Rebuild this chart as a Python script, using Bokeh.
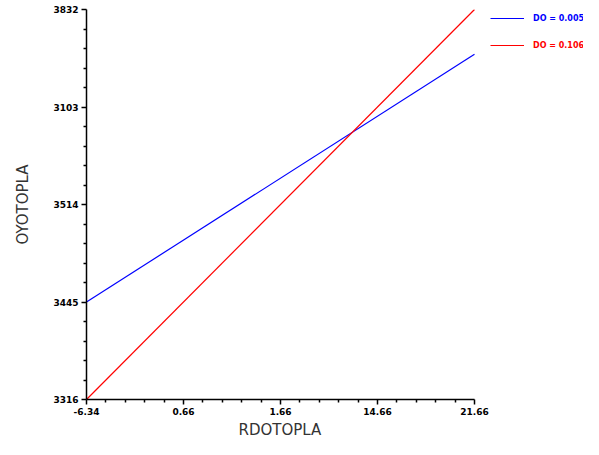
from bokeh.plotting import figure
from bokeh.models import Range1d, Legend, LegendItem, FixedTicker, Title
from bokeh.embed import file_html
from bokeh.resources import INLINE

x_ticks = [0, 1, 2, 3, 4]
x_tick_labels = ["-6.34", "0.66", "1.66", "14.66", "21.66"]
y_ticks = [0, 1, 2, 3, 4]
y_tick_labels = ["3316", "3445", "3514", "3103", "3832"]

x_vals = [0, 4]
blue_vals = [1.0, 3.54]
red_vals = [0.0, 4.0]
series_names = ["DO = 0.005", "DO = 0.106"]
series_colors = ["blue", "red"]
x_title = "RDOTOPLA"
y_title = "OYOTOPLA"

W, H = 583, 439
left, top, bottom = 86, 10, 401
frame_w = W - left
x_end = 4 * frame_w / (474 - left)

p = figure(width=W, height=H, output_backend="svg", toolbar_location=None,
           x_range=Range1d(0, x_end), y_range=Range1d(0, 4),
           min_border_left=left, min_border_right=0, min_border_top=top - 1,
           min_border_bottom=H - bottom)
p.outline_line_color = None
p.xgrid.visible = False
p.ygrid.visible = False
p.background_fill_color = "white"

r1 = p.line(x_vals, blue_vals, line_color=series_colors[0], line_width=1.2)
r2 = p.line(x_vals, red_vals, line_color=series_colors[1], line_width=1.2)

for ax, ticks, labels in ((p.xaxis[0], x_ticks, x_tick_labels), (p.yaxis[0], y_ticks, y_tick_labels)):
    minors = [t + k * 0.2 for t in ticks[:-1] for k in range(1, 5)]
    ax.ticker = FixedTicker(ticks=ticks, minor_ticks=minors)
    ax.major_label_overrides = {t: l for t, l in zip(ticks, labels)}
    ax.bounds = (0, 4)
    ax.axis_line_color = "black"
    ax.axis_line_width = 1.5
    ax.major_tick_line_color = "black"
    ax.major_tick_line_width = 1.5
    ax.minor_tick_line_color = "black"
    ax.minor_tick_line_width = 1.5
    ax.major_tick_out = 5
    ax.major_tick_in = 0
    ax.minor_tick_out = 3
    ax.minor_tick_in = 0
    ax.major_label_text_font = "DejaVu Sans"
    ax.major_label_text_font_size = "9px"
    ax.major_label_text_font_style = "bold"
    ax.major_label_text_color = "black"
    ax.major_label_standoff = 3
    ax.axis_label_text_font = "DejaVu Sans"
    ax.axis_label_text_font_size = "15px"
    ax.axis_label_text_font_style = "normal"
    ax.axis_label_text_color = "#333333"

p.yaxis.axis_label = y_title
p.yaxis.axis_label_standoff = 18

xt = Title(text=x_title, align="left", offset=152, text_font="DejaVu Sans",
           text_font_size="15px", text_font_style="normal", text_color="#333333",
           standoff=2)
p.add_layout(xt, "below")

leg1 = Legend(items=[LegendItem(label=series_names[0], renderers=[r1])],
              location=(404, 371), label_text_color=series_colors[0])
leg2 = Legend(items=[LegendItem(label=series_names[1], renderers=[r2])],
              location=(404, 344), label_text_color=series_colors[1])
for lg in (leg1, leg2):
    lg.background_fill_alpha = 0
    lg.border_line_color = None
    lg.label_text_font = "DejaVu Sans"
    lg.label_text_font_size = "8px"
    lg.label_text_font_style = "bold"
    lg.glyph_width = 34
    lg.glyph_height = 20
    lg.label_height = 20
    lg.padding = 0
    lg.margin = 0
    lg.spacing = 0
    lg.label_standoff = 9
    p.add_layout(lg, "center")

open("out.html", "w").write(file_html(p, INLINE))
